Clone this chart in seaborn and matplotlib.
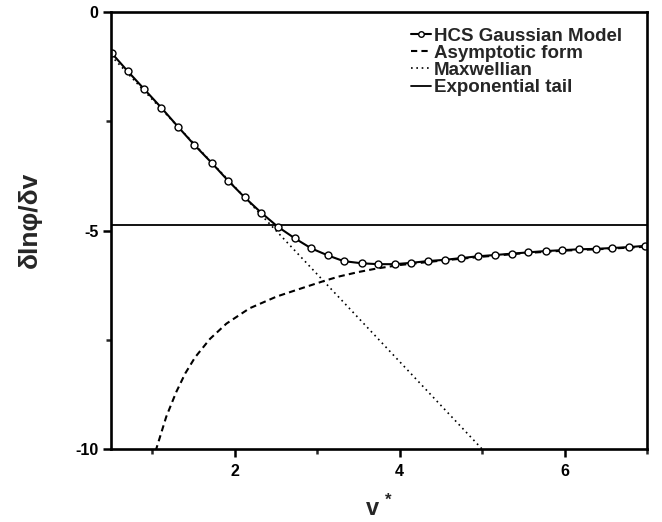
import matplotlib
matplotlib.use("Agg")
import matplotlib.pyplot as plt
import seaborn as sns
import pandas as pd
from matplotlib.ticker import MultipleLocator

# ---- data ----
hcs_v = [0.51, 0.70, 0.905, 1.11, 1.31, 1.51, 1.72, 1.92, 2.12, 2.32, 2.52,
         2.73, 2.93, 3.13, 3.32, 3.54, 3.74, 3.94, 4.14, 4.34, 4.55, 4.75,
         4.95, 5.16, 5.36, 5.56, 5.77, 5.97, 6.17, 6.38, 6.58, 6.78, 6.98]
hcs_y = [-0.945, -1.35, -1.77, -2.19, -2.62, -3.04, -3.45, -3.86, -4.24,
         -4.59, -4.91, -5.18, -5.41, -5.57, -5.70, -5.75, -5.77, -5.77,
         -5.74, -5.70, -5.67, -5.63, -5.59, -5.56, -5.53, -5.50, -5.47,
         -5.45, -5.43, -5.42, -5.40, -5.38, -5.35]

asym_v = [1.04, 1.07, 1.17, 1.29, 1.40, 1.52, 1.70, 1.90, 2.18, 2.51, 2.83,
          3.09, 3.27, 3.50, 3.72, 4.00, 4.50, 5.00, 5.50, 6.00, 6.50, 7.00]
asym_y = [-10.05, -9.87, -9.26, -8.70, -8.27, -7.90, -7.48, -7.13, -6.78,
          -6.51, -6.31, -6.15, -6.05, -5.95, -5.87, -5.79, -5.69, -5.60,
          -5.52, -5.46, -5.42, -5.37]

maxw_v = [0.5, 1.0, 2.0, 3.0, 4.0, 5.0, 5.1]
maxw_y = [-1.0, -2.0, -4.0, -6.0, -8.0, -10.0, -10.2]

tail_v = [0.5, 7.0]
tail_y = [-4.87, -4.87]

labels = ["HCS Gaussian Model", "Asymptotic form", "Maxwellian", "Exponential tail"]

# ---- styling ----
sns.set_theme(style="ticks")
plt.rcParams['font.family'] = ['Liberation Sans', 'DejaVu Sans']
plt.rcParams['font.weight'] = 'bold'
plt.rcParams['axes.unicode_minus'] = False
plt.rcParams['mathtext.fontset'] = 'custom'
plt.rcParams['mathtext.bf'] = 'Liberation Sans:bold'
plt.rcParams['mathtext.rm'] = 'Liberation Sans:bold'

fig = plt.figure(figsize=(6.62, 5.22), dpi=100)
ax = fig.add_axes([0.1677, 0.1398, 0.8096, 0.8372])

df_hcs = pd.DataFrame({"v": hcs_v, "y": hcs_y})
df_asym = pd.DataFrame({"v": asym_v, "y": asym_y})
df_maxw = pd.DataFrame({"v": maxw_v, "y": maxw_y})
df_tail = pd.DataFrame({"v": tail_v, "y": tail_y})

sns.lineplot(data=df_asym, x="v", y="y", ax=ax, color="black", lw=1.5,
             linestyle=(0, (3, 2)), label=labels[1], sort=False)
sns.lineplot(data=df_maxw, x="v", y="y", ax=ax, color="black", lw=1.2,
             linestyle=(0, (1, 2.2)), label=labels[2], sort=False)
sns.lineplot(data=df_tail, x="v", y="y", ax=ax, color="black", lw=1.3,
             label=labels[3], sort=False)
sns.lineplot(data=df_hcs, x="v", y="y", ax=ax, color="black", lw=1.5,
             marker="o", markersize=5, markerfacecolor="white",
             markeredgecolor="black", markeredgewidth=1.0,
             label=labels[0], sort=False)

ax.set_xlim(0.5, 7.0)
ax.set_ylim(-10, 0)
ax.xaxis.set_major_locator(MultipleLocator(2))
ax.xaxis.set_minor_locator(MultipleLocator(1))
ax.yaxis.set_major_locator(MultipleLocator(5))
ax.yaxis.set_minor_locator(MultipleLocator(2.5))

for s in ax.spines.values():
    s.set_linewidth(1.9)
    s.set_color("black")
    s.set_visible(True)

ax.tick_params(which="major", direction="out", length=6, width=1.8,
               labelsize=11.5, pad=3, colors="black")
ax.tick_params(axis="x", which="major", pad=5)
ax.tick_params(which="minor", direction="out", length=3.5, width=1.8)
ax.tick_params(top=False, right=False, which="both")
for t in ax.get_xticklabels() + ax.get_yticklabels():
    t.set_fontweight("bold")

ax.set_xlabel(r"$\mathbf{v}^{\ \mathbf{*}}$", fontsize=17, labelpad=11)
ax.set_ylabel("δlnφ/δv", fontsize=19, fontweight="bold")
ax.yaxis.set_label_coords(-0.129, 0.524)

handles, labs = ax.get_legend_handles_labels()
order = [labs.index(l) for l in labels]
leg = ax.legend([handles[i] for i in order], [labs[i] for i in order],
                loc="upper right", bbox_to_anchor=(0.975, 0.99), frameon=False,
                fontsize=13.5, handlelength=1.1, handletextpad=0.15,
                labelspacing=0.0, borderaxespad=0.2)
for t in leg.get_texts():
    t.set_fontweight("bold")
for h in leg.legend_handles:
    try:
        h.set_markersize(4)
    except Exception:
        pass

fig.savefig("out.png", dpi=100)
